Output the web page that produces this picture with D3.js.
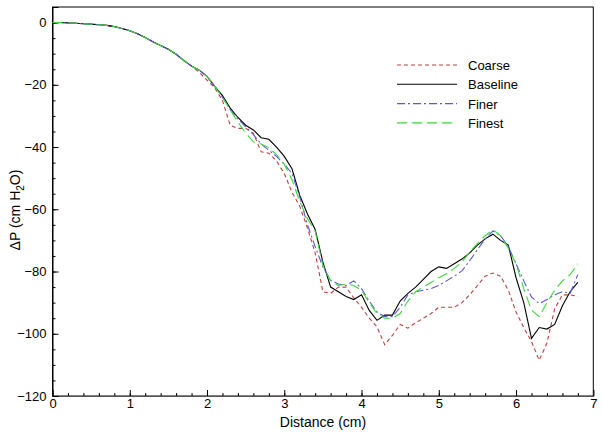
<!DOCTYPE html>
<html>
<head>
<meta charset="utf-8">
<script src="https://cdn.jsdelivr.net/npm/d3@7"></script>
<style>
  body { margin: 0; background: #fff; }
  text { font-family: "Liberation Sans", Arial, sans-serif; }
</style>
</head>
<body>
<div id="chart"></div>
<script>
// distance (cm), one value every 0.1 cm
var distance = d3.range(0, 69).map(function(i) { return i / 10; });

var early = [0, 0, -0.1, -0.2, -0.4, -0.5, -0.7, -0.9, -1.3, -1.9, -2.6, -3.6, -4.8, -6.2, -7.4, -8.6, -10.2, -12.2, -14.0];

var coarse = early.concat([-16.0, -18.5, -21, -25, -33, -34, -34, -35.5, -41.5, -42, -44.5, -48.5, -54.5, -59, -66, -74,
  -86.5, -87, -85, -85, -88.5, -91.5, -95, -97.8, -103.5, -100.5, -97, -98.2, -96.5, -95, -93.5, -91.5, -91.5, -91.5,
  -90, -87.5, -84.5, -81.5, -80.5, -81.5, -86, -93, -98, -102.5, -108.5, -103, -92, -87.5, -87.5, -88]);

var baseline = early.concat([-15.3, -17.3, -20.5, -23.5, -27.5, -30.5, -33, -34.5, -37, -37.5, -40, -43, -47, -55.5, -61.5, -66.5,
  -77, -85, -86.5, -88, -89, -87.5, -92.5, -95.7, -94, -94, -89.5, -87, -85, -82.5, -80, -78.5, -79, -77.5,
  -76, -74, -71.5, -69.5, -68, -70, -71.5, -82, -90, -101.5, -98, -98.5, -97, -91, -86.5, -83.5]);

var finer = early.concat([-15.3, -17.3, -20.5, -24, -28, -31, -33.5, -36, -39, -41, -43, -45.5, -48.5, -56, -65, -72,
  -78.5, -82.8, -84, -84.5, -83, -85.5, -89.5, -93, -94.5, -94.5, -91.5, -87.5, -86.5, -86, -85.5, -84.5, -83, -81.5,
  -79.8, -76.5, -73, -69.5, -67, -68.5, -72, -77.5, -83, -88.2, -90.3, -89, -87.5, -86.5, -87, -81]);

var finest = early.concat([-15.3, -17.3, -20.5, -24, -28, -32, -35.5, -38.3, -39, -40.2, -42.5, -45.5, -50.5, -57.5, -63, -67,
  -78, -83, -84.5, -84, -84.5, -86, -90, -93.5, -95, -95, -93.5, -89.5, -86.5, -85, -83.5, -82, -80.7, -79,
  -77, -73.7, -71, -68.5, -66.5, -68.5, -72.5, -77.5, -85.5, -92.4, -94.5, -90, -86, -83, -81, -77.5]);

var seriesNames = ["Coarse", "Baseline", "Finer", "Finest"];
var seriesValues = [coarse, baseline, finer, finest];
var xTicks = [0, 1, 2, 3, 4, 5, 6, 7];
var yTicks = [-120, -100, -80, -60, -40, -20, 0];

var styles = {
  Coarse:   { color: "#c04040", dash: "4,3" },
  Baseline: { color: "#000000", dash: null },
  Finer:    { color: "#5a5ad8", dash: "8,3,2,3" },
  Finest:   { color: "#3ad83a", dash: "10,5" }
};

var width = 602, height = 437;
var svg = d3.select("#chart").append("svg")
    .attr("width", width)
    .attr("height", height);

var x = d3.scaleLinear().domain([0, 7]).range([52.5, 593.3]);
var y = d3.scaleLinear().domain([-120, 5]).range([396, 7]);

// frame
svg.append("rect")
    .attr("x", x(0)).attr("y", y(5))
    .attr("width", x(7) - x(0)).attr("height", y(-120) - y(5))
    .attr("fill", "none").attr("stroke", "#000").attr("stroke-width", 1);

// minor ticks
svg.append("g")
    .attr("transform", "translate(0," + y(-120) + ")")
    .call(d3.axisBottom(x).tickValues(d3.range(1, 35).map(function(i) { return i * 0.2; })).tickSize(-3).tickFormat(""))
    .call(function(g) { g.select(".domain").remove(); });
svg.append("g")
    .attr("transform", "translate(" + x(0) + ",0)")
    .call(d3.axisLeft(y).tickValues(d3.range(-23, 1).map(function(i) { return i * 5; })).tickSize(-3).tickFormat(""))
    .call(function(g) { g.select(".domain").remove(); });

// major ticks
var xAxis = svg.append("g")
    .attr("transform", "translate(0," + y(-120) + ")")
    .call(d3.axisBottom(x).tickValues(xTicks).tickSize(-6).tickPadding(3).tickFormat(d3.format("d")));
xAxis.select(".domain").attr("stroke", "#555");
xAxis.selectAll("text").attr("font-size", 13).attr("fill", "#000");

var yAxis = svg.append("g")
    .attr("transform", "translate(" + x(0) + ",0)")
    .call(d3.axisLeft(y).tickValues(yTicks).tickSize(-6).tickPadding(6).tickFormat(d3.format("d")));
yAxis.selectAll("text").attr("font-size", 13).attr("fill", "#000");

svg.selectAll(".tick line").attr("stroke", "#000");

// lines
var line = d3.line()
    .x(function(d, i) { return x(distance[i]); })
    .y(function(d) { return y(d); });

seriesNames.forEach(function(name, k) {
  svg.append("path")
      .datum(seriesValues[k])
      .attr("fill", "none")
      .attr("stroke", styles[name].color)
      .attr("stroke-width", 1.1)
      .attr("stroke-dasharray", styles[name].dash)
      .attr("d", line);
});

// legend
var legend = svg.append("g");
seriesNames.forEach(function(name, k) {
  var ly = 65 + k * 19.3;
  legend.append("line")
      .attr("x1", 397).attr("x2", 457)
      .attr("y1", ly).attr("y2", ly)
      .attr("stroke", styles[name].color)
      .attr("stroke-width", 1.1)
      .attr("stroke-dasharray", styles[name].dash);
  legend.append("text")
      .attr("x", 468).attr("y", ly + 5)
      .attr("font-size", 13)
      .text(name);
});

// axis titles
svg.append("text")
    .attr("x", 323).attr("y", 427)
    .attr("text-anchor", "middle")
    .attr("font-size", 14)
    .text("Distance (cm)");

var yt = svg.append("text")
    .attr("transform", "translate(20,210) rotate(-90)")
    .attr("text-anchor", "middle")
    .attr("font-size", 14);
yt.append("tspan").text("\u0394P (cm H");
yt.append("tspan").attr("font-size", 10).attr("dy", 4).text("2");
yt.append("tspan").attr("dy", -4).text("O)");
</script>
</body>
</html>
